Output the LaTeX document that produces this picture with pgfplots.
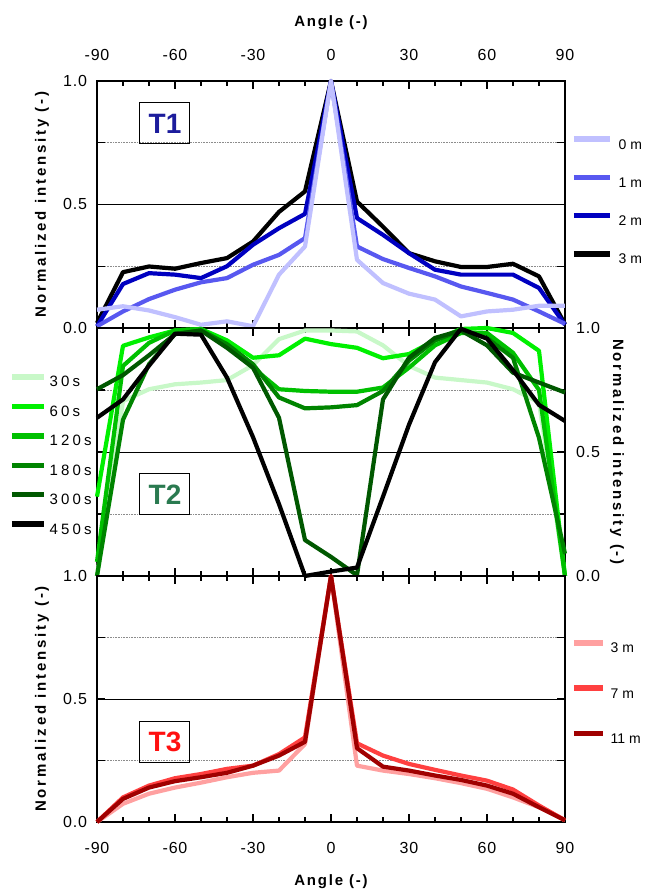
\documentclass[border=0pt]{standalone}
\usepackage{pgfplots}
\pgfplotsset{compat=1.18}
\usepackage{fontspec}
\setmainfont{Liberation Sans}
\newfontfamily\spc[LetterSpace=19]{Liberation Sans}
\newfontfamily\spct[LetterSpace=12]{Liberation Sans}
\newfontfamily\spcw[LetterSpace=21]{Liberation Sans}
\newfontfamily\tk[LetterSpace=5]{Liberation Sans}

\definecolor{bA}{HTML}{C0C0FF}
\definecolor{bB}{HTML}{5858F0}
\definecolor{bC}{HTML}{0000C0}
\definecolor{gA}{HTML}{C8F8C8}
\definecolor{gB}{HTML}{00F000}
\definecolor{gC}{HTML}{00C000}
\definecolor{gD}{HTML}{008400}
\definecolor{gE}{HTML}{005800}
\definecolor{rA}{HTML}{FFA0A0}
\definecolor{rB}{HTML}{FF4040}
\definecolor{rC}{HTML}{A00000}
\definecolor{tone}{HTML}{1C1C9C}
\definecolor{ttwo}{HTML}{2A7A50}
\definecolor{tthree}{HTML}{FF1010}

\tikzset{
  tnode/.style={draw=black, line width=1pt, minimum width=50pt, minimum height=41pt, inner sep=0pt, font=\bfseries\fontsize{28}{30}\selectfont},
}
\pgfplotsset{
  panel/.style={
    scale only axis, width=468pt, xmin=-90, xmax=90, ymin=0, ymax=1,
    clip=false,
    axis line style={line width=1.4pt},
    xtick={-90,-60,...,90}, minor x tick num=2,
    xticklabels={-90,-60,-30,0,30,60,90},
    ytick={0,0.5,1}, yticklabels={0.0,0.5,1.0},
    extra y ticks={0.25,0.75}, extra y tick labels={},
    extra y tick style={grid=major, major grid style={densely dotted, black!45, line width=0.7pt}},
    ymajorgrids, major grid style={black, line width=0.6pt},
    major tick length=8pt, minor tick length=5pt,
    every tick/.style={black, line width=1.2pt},
    tick align=inside,
    every axis plot/.append style={line width=4.2pt, line join=round},
    xticklabel style={font=\tk\fontsize{16}{18}\selectfont, anchor=center},
    yticklabel style={font=\tk\fontsize{16}{18}\selectfont, anchor=center},
    xlabel style={font=\spct\bfseries\fontsize{15}{17}\selectfont, anchor=center},
    ylabel style={font=\spc\bfseries\fontsize{15}{17}\selectfont, anchor=center},
    legend cell align=left,
  },
}

\begin{document}
\begin{tikzpicture}[x=1pt,y=1pt]
\useasboundingbox (0,0) rectangle (645,891);

% ---------------- T1 ----------------
\begin{axis}[panel, height=247pt, at={(97pt,563pt)}, anchor=south west,
  xticklabel pos=upper,
  xticklabel style={yshift=26pt},
  yticklabel pos=left,
  yticklabel style={xshift=-22pt},
  xlabel={Angle (-)}, xlabel style={at={(axis description cs:0.5,1.235)}},
  ylabel={Normalized intensity (-)}, ylabel style={at={(axis description cs:-0.1175,0.5)}},
  reverse legend,
  legend style={draw=none, fill=none, inner sep=0pt, at={(axis description cs:1.0128,0.777)}, anchor=north west,
    font=\fontsize{14}{16}\selectfont, row sep=25.5pt,
    nodes={inner sep=0pt, text height=10pt, text depth=0pt},
    /tikz/every odd column/.append style={column sep=6pt}},
  legend image code/.code={\draw[line width=5.5pt] (0pt,5pt) -- (36pt,5pt);},
]
\addplot[black] coordinates {(-90,0.02)(-80,0.226)(-70,0.249)(-60,0.24)(-50,0.263)(-40,0.283)(-30,0.35)(-20,0.47)(-10,0.553)(0,1.0)(10,0.512)(20,0.41)(30,0.303)(40,0.27)(50,0.247)(60,0.247)(70,0.26)(80,0.209)(90,0.015)};
\addlegendentry{3 m}
\addplot[bC] coordinates {(-90,0.007)(-80,0.178)(-70,0.222)(-60,0.216)(-50,0.202)(-40,0.25)(-30,0.337)(-20,0.404)(-10,0.462)(0,1.0)(10,0.445)(20,0.377)(30,0.303)(40,0.236)(50,0.216)(60,0.216)(70,0.216)(80,0.162)(90,0.013)};
\addlegendentry{2 m}
\addplot[bB] coordinates {(-90,0.007)(-80,0.067)(-70,0.117)(-60,0.155)(-50,0.185)(-40,0.202)(-30,0.256)(-20,0.296)(-10,0.364)(0,1.0)(10,0.33)(20,0.279)(30,0.243)(40,0.209)(50,0.168)(60,0.142)(70,0.115)(80,0.067)(90,0.017)};
\addlegendentry{1 m}
\addplot[bA] coordinates {(-90,0.074)(-80,0.088)(-70,0.071)(-60,0.044)(-50,0.013)(-40,0.027)(-30,0.007)(-20,0.216)(-10,0.33)(0,1.0)(10,0.276)(20,0.182)(30,0.139)(40,0.115)(50,0.047)(60,0.067)(70,0.074)(80,0.09)(90,0.09)};
\addlegendentry{0 m}
\node[tnode, text=tone] at (axis cs:-63.85,0.828) {T1};
\end{axis}

% ---------------- T2 ----------------
\begin{axis}[panel, height=248pt, at={(97pt,315pt)}, anchor=south west,
  xticklabels={},
  yticklabel pos=right,
  yticklabel style={xshift=23pt},
  ylabel={Normalized intensity (-)}, ylabel style={at={(axis description cs:1.111,0.5)}, rotate=180},
  legend style={draw=none, fill=none, inner sep=0pt, at={(axis description cs:-0.188,0.8145)}, anchor=north west,
    font=\spcw\fontsize{15}{17}\selectfont, row sep=16.7pt,
    nodes={inner sep=0pt, text height=10pt, text depth=0pt},
    /tikz/every odd column/.append style={column sep=3pt}},
  legend image code/.code={\draw[line width=5.5pt] (0pt,5pt) -- (32pt,5pt);},
]
\addplot[gA] coordinates {(-90,0.0)(-80,0.705)(-70,0.753)(-60,0.773)(-50,0.78)(-40,0.79)(-30,0.85)(-20,0.955)(-10,0.99)(0,0.99)(10,0.986)(20,0.93)(30,0.847)(40,0.80)(50,0.79)(60,0.78)(70,0.753)(80,0.70)(90,0.0)};
\addlegendentry{30s}
\addplot[gB] coordinates {(-90,0.32)(-80,0.928)(-70,0.962)(-60,0.99)(-50,0.996)(-40,0.95)(-30,0.88)(-20,0.89)(-10,0.957)(0,0.935)(10,0.92)(20,0.878)(30,0.895)(40,0.95)(50,0.996)(60,1.0)(70,0.98)(80,0.908)(90,0.0)};
\addlegendentry{60s}
\addplot[gC] coordinates {(-90,0.057)(-80,0.847)(-70,0.94)(-60,0.99)(-50,0.996)(-40,0.93)(-30,0.84)(-20,0.753)(-10,0.746)(0,0.743)(10,0.743)(20,0.76)(30,0.84)(40,0.93)(50,0.98)(60,0.98)(70,0.90)(80,0.75)(90,0.0)};
\addlegendentry{120s}
\addplot[gD] coordinates {(-90,0.0)(-80,0.63)(-70,0.854)(-60,0.976)(-50,0.99)(-40,0.935)(-30,0.854)(-20,0.72)(-10,0.676)(0,0.68)(10,0.689)(20,0.746)(30,0.868)(40,0.95)(50,0.99)(60,0.96)(70,0.88)(80,0.557)(90,0.09)};
\addlegendentry{180s}
\addplot[gE] coordinates {(-90,0.753)(-80,0.81)(-70,0.89)(-60,0.975)(-50,0.99)(-40,0.92)(-30,0.84)(-20,0.638)(-10,0.145)(0,0.077)(10,0.003)(20,0.712)(30,0.88)(40,0.96)(50,0.99)(60,0.93)(70,0.82)(80,0.78)(90,0.74)};
\addlegendentry{300s}
\addplot[black] coordinates {(-90,0.638)(-80,0.712)(-70,0.848)(-60,0.977)(-50,0.973)(-40,0.80)(-30,0.56)(-20,0.29)(-10,0.0)(0,0.018)(10,0.034)(20,0.32)(30,0.61)(40,0.862)(50,0.997)(60,0.957)(70,0.83)(80,0.69)(90,0.625)};
\addlegendentry{450s}
\node[tnode, text=ttwo] at (axis cs:-63.85,0.329) {T2};
\end{axis}

% ---------------- T3 ----------------
\begin{axis}[panel, height=246pt, at={(97pt,69pt)}, anchor=south west,
  xticklabel pos=lower,
  xticklabel style={yshift=-26pt},
  yticklabel pos=left,
  yticklabel style={xshift=-22pt},
  xlabel={Angle (-)}, xlabel style={at={(axis description cs:0.5,-0.244)}},
  ylabel={Normalized intensity (-)}, ylabel style={at={(axis description cs:-0.1175,0.5)}},
  legend style={draw=none, fill=none, inner sep=0pt, at={(axis description cs:1.0128,0.7398)}, anchor=north west,
    font=\fontsize{14}{16}\selectfont, row sep=32.5pt,
    nodes={inner sep=0pt, text height=10pt, text depth=0pt},
    /tikz/every odd column/.append style={column sep=5pt}},
  legend image code/.code={\draw[line width=5.5pt] (0pt,5pt) -- (29pt,5pt);},
]
\addplot[rA] coordinates {(-90,0.0)(-80,0.074)(-70,0.115)(-60,0.14)(-50,0.16)(-40,0.182)(-30,0.2)(-20,0.209)(-10,0.317)(0,1.0)(10,0.229)(20,0.209)(30,0.195)(40,0.178)(50,0.158)(60,0.135)(70,0.10)(80,0.06)(90,0.007)};
\addlegendentry{3 m}
\addplot[rB] coordinates {(-90,0.0)(-80,0.10)(-70,0.148)(-60,0.178)(-50,0.195)(-40,0.216)(-30,0.229)(-20,0.276)(-10,0.344)(0,1.0)(10,0.32)(20,0.27)(30,0.236)(40,0.212)(50,0.189)(60,0.168)(70,0.132)(80,0.067)(90,0.007)};
\addlegendentry{7 m}
\addplot[rC] coordinates {(-90,0.0)(-80,0.094)(-70,0.14)(-60,0.166)(-50,0.182)(-40,0.2)(-30,0.229)(-20,0.27)(-10,0.326)(0,1.0)(10,0.30)(20,0.225)(30,0.209)(40,0.189)(50,0.171)(60,0.148)(70,0.115)(80,0.06)(90,0.007)};
\addlegendentry{11 m}
\node[tnode, text=tthree] at (axis cs:-63.85,0.325) {T3};
\end{axis}
\end{tikzpicture}
\end{document}
